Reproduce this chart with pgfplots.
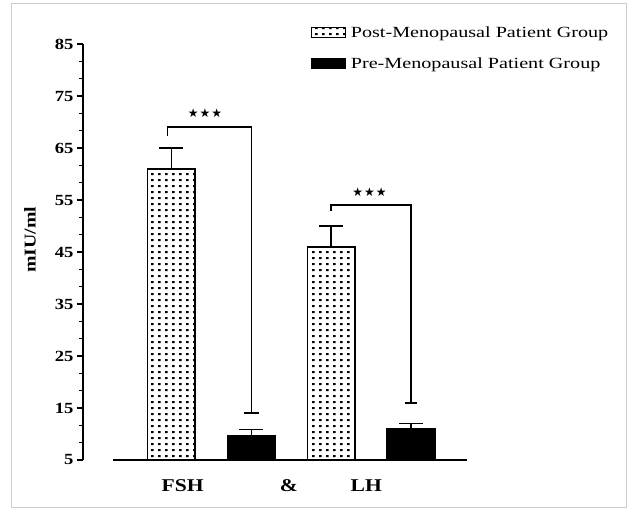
\documentclass[border=0pt]{standalone}
\usepackage{fontspec}
\setmainfont{Liberation Serif}[FakeStretch=1.2]
\newfontfamily\legfont{Liberation Serif}[FakeStretch=1.3]
\newfontfamily\starfont{DejaVu Sans}
\usepackage{pgfplots}
\pgfplotsset{compat=1.18}
\usetikzlibrary{patterns}
\pgfdeclarepatternformonly{sqdots}{\pgfqpoint{0pt}{0pt}}{\pgfqpoint{6.8pt}{6.3pt}}{\pgfqpoint{6.8pt}{6.3pt}}{\pgfpathrectangle{\pgfqpoint{2.3pt}{2pt}}{\pgfqpoint{2.4pt}{2.4pt}}\pgfusepath{fill}}
\pgfplotsset{/pgf/number format/assume math mode=true}
\begin{document}
\begin{tikzpicture}
\path[use as bounding box] (0,0) rectangle (627pt,509pt);
\draw[color={rgb,255:red,205;green,205;blue,205}, line width=1pt] (11pt,1pt) rectangle (626pt,505pt);
\begin{axis}[
  at={(83pt,49pt)}, anchor=south west,
  scale only axis, width=384pt, height=416pt,
  xmin=-1.106, xmax=3.7, ymin=5, ymax=85,
  axis lines=left, axis line style={-},
  x axis line style={draw=none},
  y axis line style={line width=1.6pt},
  ytick={5,15,...,85}, minor y tick num=2,
  tick align=outside, major tick length=6pt, minor tick length=4pt,
  ytick style={line width=1.4pt, black},
  minor tick style={line width=1.2pt, black},
  yticklabel style={font=\fontsize{15.5}{15.5}\selectfont\bfseries},
  xtick={0.14,1.47,2.44}, xticklabels={FSH,\&,LH},
  x tick style={draw=none},
  xticklabel style={font=\fontsize{18}{18}\selectfont\bfseries, anchor=base, yshift=-25pt},
  clip mode=individual,
  ybar, bar width=0.597,
  legend image code/.code={\draw[#1,line width=1pt] (0pt,-5pt) rectangle (34pt,5pt);},
  legend style={at={(axis description cs:0.585,1.052)}, anchor=north west, draw=none, fill=none,
    font=\legfont\fontsize{15.5}{15.5}\selectfont, row sep=15pt, nodes={inner xsep=5pt, inner ysep=2pt}},
  legend cell align=left,
]
\addplot[draw=black, line width=1.6pt, pattern=sqdots, bar shift=0pt,
  error bars/.cd, y dir=plus, y explicit,
  error bar style={line width=1.5pt, black},
  error mark options={rotate=90, line width=1.5pt, mark size=12pt, black}]
  coordinates {(0,61) +- (0,4) (2,46) +- (0,4)};
\addlegendentry{Post-Menopausal Patient Group}
\addplot[draw=black, line width=1.6pt, fill=black, bar shift=0pt,
  error bars/.cd, y dir=plus, y explicit,
  error bar style={line width=1.5pt, black},
  error mark options={rotate=90, line width=1.5pt, mark size=12pt, black}]
  coordinates {(1,9.7) +- (0,1.2) (3,11) +- (0,1)};
\addlegendentry{Pre-Menopausal Patient Group}
\draw[line width=1.6pt] (axis cs:-0.73,5) -- (axis cs:3.7,5);
\draw[line width=1.5pt] (axis cs:-0.05,67.4) -- (axis cs:-0.05,69) -- (axis cs:1,69) -- (axis cs:1,14);
\draw[line width=1.5pt] (axis cs:0.905,14) -- (axis cs:1.095,14);
\draw[line width=1.5pt] (axis cs:2,52.8) -- (axis cs:2,54) -- (axis cs:3,54) -- (axis cs:3,16);
\draw[line width=1.5pt] (axis cs:2.92,16) -- (axis cs:3.08,16);
\node[font=\starfont\fontsize{12}{12}\selectfont] at (axis cs:0.42,71.7) {★\hspace{1pt}★\hspace{1pt}★};
\node[font=\starfont\fontsize{12}{12}\selectfont] at (axis cs:2.48,56.5) {★\hspace{1pt}★\hspace{1pt}★};
\node[rotate=90, anchor=center, inner sep=0pt, font=\fontsize{16.5}{16.5}\selectfont\bfseries] at (axis description cs:-0.138,0.53) {mIU/ml};
\end{axis}
\end{tikzpicture}
\end{document}
